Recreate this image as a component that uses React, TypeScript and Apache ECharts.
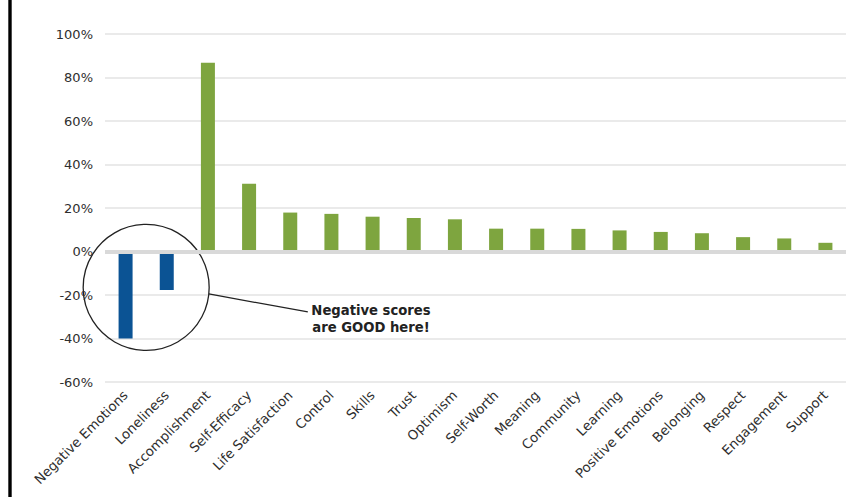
import React, { useEffect, useRef } from "react";
import * as echarts from "echarts";

const categories = [
  "Negative Emotions", "Loneliness", "Accomplishment", "Self-Efficacy", "Life Satisfaction",
  "Control", "Skills", "Trust", "Optimism", "Self-Worth", "Meaning", "Community",
  "Learning", "Positive Emotions", "Belonging", "Respect", "Engagement", "Support",
];
const values = [
  -40, -17.7, 86.8, 31.2, 17.9, 17.3, 16.0, 15.4, 14.8, 10.5, 10.5, 10.4,
  9.7, 9.0, 8.4, 6.6, 6.0, 4.0,
];
const yTicks = { min: -60, max: 100, interval: 20 };
const annotationLines = ["Negative scores", "are GOOD here!"];

const GREEN = "#7ea53f";
const BLUE = "#0b5394";
const FONT = "DejaVu Sans";

export default function App() {
  const ref = useRef<HTMLDivElement>(null);
  useEffect(() => {
    if (!ref.current) return;
    const chart = echarts.init(ref.current, null, { renderer: "svg" });
    chart.setOption({
      animation: false,
      backgroundColor: "#ffffff",
      grid: { left: 105, right: 5, top: 34, bottom: 115, containLabel: false },
      xAxis: {
        type: "category",
        data: categories,
        axisLine: { show: false },
        axisTick: { show: false },
        axisLabel: {
          rotate: 45,
          interval: 0,
          margin: 11,
          color: "#2e2e2e",
          fontFamily: FONT,
          fontSize: 13.3,
        },
      },
      yAxis: {
        type: "value",
        min: yTicks.min,
        max: yTicks.max,
        interval: yTicks.interval,
        axisLine: { show: false },
        axisTick: { show: false },
        splitLine: { lineStyle: { color: "#e3e3e3", width: 1.5 } },
        axisLabel: {
          formatter: "{value}%",
          margin: 12,
          color: "#2e2e2e",
          fontFamily: FONT,
          fontSize: 13,
        },
      },
      series: [
        {
          type: "bar",
          data: values.map((v) => ({
            value: v,
            itemStyle: { color: v < 0 ? BLUE : GREEN },
          })),
          barWidth: 14,
          markLine: {
            silent: true,
            symbol: "none",
            label: { show: false },
            lineStyle: { color: "#d9d9d9", width: 4, type: "solid" },
            data: [{ yAxis: 0 }],
          },
        },
      ],
    });

    const p0 = chart.convertToPixel({ seriesIndex: 0 }, [0, -16.5]) as number[];
    const p1 = chart.convertToPixel({ seriesIndex: 0 }, [1, -16.5]) as number[];
    const cx = (p0[0] + p1[0]) / 2;
    const cy = p0[1];
    const r = 63;
    const ang = (6 * Math.PI) / 180;
    const sx = cx + r * Math.cos(ang);
    const sy = cy + r * Math.sin(ang);

    chart.setOption({
      graphic: [
        {
          type: "rect",
          shape: { x: 8.3, y: 0, width: 3.4, height: 497 },
          style: { fill: "#000000" },
          silent: true,
        },
        {
          type: "circle",
          shape: { cx, cy, r },
          style: { fill: "none", stroke: "#222222", lineWidth: 1.3 },
          silent: true,
        },
        {
          type: "line",
          shape: { x1: sx, y1: sy, x2: sx + 99, y2: sy + 18 },
          style: { stroke: "#222222", lineWidth: 1.3 },
          silent: true,
        },
        {
          type: "text",
          x: 371,
          y: 302,
          style: {
            text: annotationLines.join("\n"),
            fill: "#222222",
            font: `bold 13.2px "${FONT}"`,
            align: "center",
            verticalAlign: "top",
            lineHeight: 17,
          },
          silent: true,
        },
      ],
    });
    return () => chart.dispose();
  }, []);
  return (
    <div
      ref={ref}
      style={{ position: "fixed", left: 0, top: 0, width: 851, height: 497 }}
    />
  );
}
